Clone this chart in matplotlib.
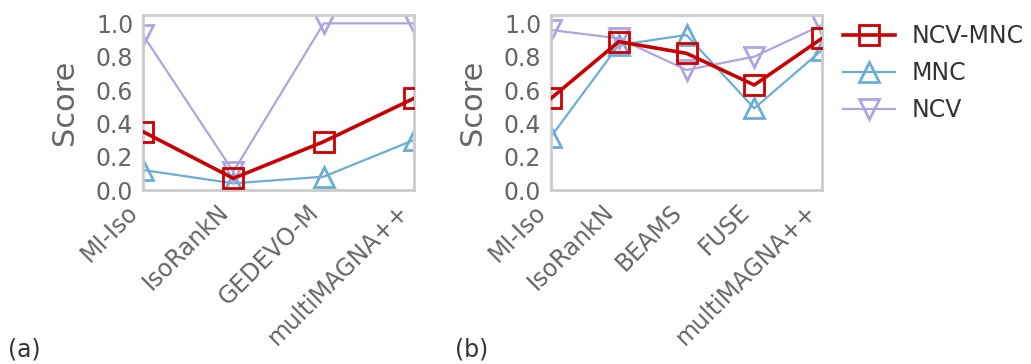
import matplotlib
matplotlib.use("Agg")
import matplotlib.pyplot as plt

# panel (a)
tools_a = ["MI-Iso", "IsoRankN", "GEDEVO-M", "multiMAGNA++"]
ncv_mnc_a = [0.35, 0.07, 0.29, 0.55]
mnc_a = [0.12, 0.04, 0.08, 0.30]
ncv_a = [0.93, 0.11, 1.00, 1.00]

# panel (b)
tools_b = ["MI-Iso", "IsoRankN", "BEAMS", "FUSE", "multiMAGNA++"]
ncv_mnc_b = [0.55, 0.89, 0.82, 0.63, 0.91]
mnc_b = [0.32, 0.87, 0.93, 0.49, 0.84]
ncv_b = [0.96, 0.91, 0.72, 0.80, 0.99]

red = "#cc0000"
blue = "#6aaed6"
lav = "#aca6e0"
grey = "#666666"

fig = plt.figure(figsize=(10.31, 3.64), dpi=100)
ax_a = fig.add_axes([143/1031, 1-190/364, 271/1031, 175/364])
ax_b = fig.add_axes([551/1031, 1-190/364, 271/1031, 175/364])


def draw(ax, tools, s1, s2, s3):
    x = list(range(len(tools)))
    ax.plot(x, s1, color=red, lw=2.6, marker="s", ms=14, mfc="none", mew=2, label="NCV-MNC", zorder=3)
    ax.plot(x, s2, color=blue, lw=1.6, marker="^", ms=14, mfc="none", mew=2, label="MNC")
    ax.plot(x, s3, color=lav, lw=1.6, marker="v", ms=14, mfc="none", mew=2, label="NCV")
    ax.set_xlim(0, len(tools) - 1)
    ax.set_ylim(0, 1.05)
    ax.set_yticks([0, 0.2, 0.4, 0.6, 0.8, 1.0])
    ax.set_yticklabels(["0.0", "0.2", "0.4", "0.6", "0.8", "1.0"])
    ax.set_xticks(x)
    ax.set_xticklabels(tools, rotation=45, ha="right")
    ax.tick_params(length=0, pad=7, labelsize=17, labelcolor=grey)
    ax.set_ylabel("Score", fontsize=22, color=grey, labelpad=12)
    for sp in ax.spines.values():
        sp.set_color("#cccccc")
        sp.set_linewidth(2)


draw(ax_a, tools_a, ncv_mnc_a, mnc_a, ncv_a)
draw(ax_b, tools_b, ncv_mnc_b, mnc_b, ncv_b)

leg = ax_b.legend(loc="upper left", bbox_to_anchor=(1.0, 1.07), frameon=False,
                  fontsize=17, handlelength=2.2, handletextpad=0.7,
                  labelspacing=0.55, borderaxespad=0.5)
for t in leg.get_texts():
    t.set_color("#333333")

fig.text(0.008, 0.02, "(a)", fontsize=17, color="#333333")
fig.text(0.441, 0.02, "(b)", fontsize=17, color="#333333")

fig.savefig("out.png", dpi=100)
